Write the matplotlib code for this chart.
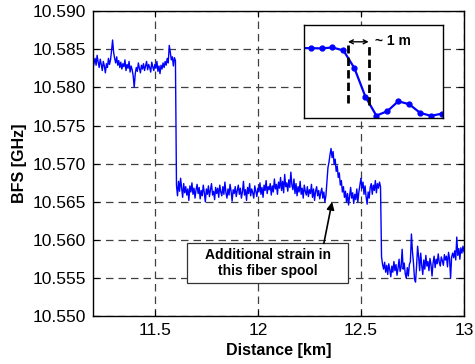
import numpy as np
import matplotlib
matplotlib.use('Agg')
import matplotlib.pyplot as plt
from matplotlib.patches import Rectangle

plt.rcParams['font.family'] = ['Liberation Sans', 'DejaVu Sans']

step_km = 0.005

seg1_start = 11.200
seg1_bfs = [
    10.5825, 10.5832, 10.5838, 10.5829, 10.5842, 10.5833, 10.5826, 10.5837, 10.5830, 10.5822,
    10.5834, 10.5828, 10.5819, 10.5831, 10.5826, 10.5838, 10.5830, 10.5836, 10.5848, 10.5862,
    10.5846, 10.5838, 10.5832, 10.5840, 10.5829, 10.5835, 10.5826, 10.5833, 10.5824, 10.5831,
    10.5827, 10.5836, 10.5822, 10.5830, 10.5825, 10.5834, 10.5820, 10.5828, 10.5823, 10.5815,
    10.5800, 10.5818, 10.5826, 10.5821, 10.5832, 10.5825, 10.5819, 10.5829, 10.5824, 10.5831,
    10.5822, 10.5828, 10.5834, 10.5823, 10.5830, 10.5826, 10.5820, 10.5833, 10.5827, 10.5822,
    10.5830, 10.5825, 10.5834, 10.5821, 10.5828, 10.5818, 10.5829, 10.5824, 10.5832, 10.5826,
    10.5834, 10.5829, 10.5838, 10.5832, 10.5855, 10.5846, 10.5836, 10.5840, 10.5828, 10.5839,
    10.5835,
]

seg2_start = 11.605
seg2_bfs = [
    10.5672, 10.5658, 10.5677, 10.5664, 10.5681, 10.5669, 10.5656, 10.5674, 10.5662, 10.5670,
    10.5659, 10.5667, 10.5652, 10.5671, 10.5663, 10.5675, 10.5660, 10.5668, 10.5655, 10.5666,
    10.5673, 10.5661, 10.5669, 10.5654, 10.5665, 10.5658, 10.5672, 10.5662, 10.5650, 10.5667,
    10.5660, 10.5671, 10.5657, 10.5666, 10.5674, 10.5659, 10.5664, 10.5653, 10.5669, 10.5661,
    10.5668, 10.5656, 10.5672, 10.5663, 10.5658, 10.5670, 10.5660, 10.5676, 10.5662, 10.5655,
    10.5667, 10.5659, 10.5673, 10.5664, 10.5651, 10.5666, 10.5661, 10.5670, 10.5657, 10.5665,
    10.5672, 10.5660, 10.5668, 10.5655, 10.5663, 10.5677, 10.5659, 10.5666, 10.5652, 10.5669,
    10.5661, 10.5674, 10.5658, 10.5667, 10.5662, 10.5655, 10.5671, 10.5664, 10.5657, 10.5668,
    10.5663, 10.5675, 10.5660, 10.5669, 10.5656, 10.5672, 10.5665, 10.5678, 10.5661, 10.5670,
    10.5666, 10.5674, 10.5659, 10.5671, 10.5663, 10.5680, 10.5667, 10.5673, 10.5660, 10.5676,
    10.5668, 10.5682, 10.5665, 10.5677, 10.5662, 10.5686, 10.5670, 10.5675, 10.5664, 10.5679,
    10.5669, 10.5689, 10.5672, 10.5666, 10.5680, 10.5661, 10.5674, 10.5658, 10.5670, 10.5663,
    10.5677, 10.5660, 10.5668, 10.5655, 10.5672, 10.5664, 10.5659, 10.5670, 10.5657, 10.5666,
    10.5661, 10.5673, 10.5656, 10.5667, 10.5652, 10.5664, 10.5670, 10.5658, 10.5665, 10.5654,
    10.5662, 10.5668, 10.5655, 10.5663, 10.5650, 10.5658, 10.5676, 10.5695, 10.5702, 10.5712,
    10.5720, 10.5708, 10.5716, 10.5699, 10.5706, 10.5690, 10.5697, 10.5682, 10.5688, 10.5672,
    10.5678, 10.5663, 10.5670, 10.5656, 10.5664, 10.5650, 10.5661, 10.5646, 10.5658, 10.5669,
    10.5655, 10.5662, 10.5648, 10.5660, 10.5653, 10.5667, 10.5650, 10.5663, 10.5672, 10.5681,
    10.5668, 10.5676, 10.5660, 10.5671, 10.5657, 10.5647, 10.5663, 10.5655, 10.5669, 10.5674,
    10.5660, 10.5672, 10.5665, 10.5678, 10.5662, 10.5674, 10.5668, 10.5676, 10.5670,
]

seg3_start = 12.600
seg3_bfs = [
    10.5578, 10.5568, 10.5562, 10.5571, 10.5558, 10.5567, 10.5555, 10.5569, 10.5561, 10.5552,
    10.5566, 10.5558, 10.5572, 10.5560, 10.5568, 10.5554, 10.5563, 10.5575, 10.5559, 10.5565,
    10.5588, 10.5562, 10.5570, 10.5556, 10.5550, 10.5564, 10.5553, 10.5568, 10.5572, 10.5608,
    10.5585, 10.5570, 10.5549, 10.5545, 10.5566, 10.5592, 10.5578, 10.5560, 10.5583, 10.5567,
    10.5555, 10.5574, 10.5562, 10.5580, 10.5566, 10.5572, 10.5560, 10.5576, 10.5568, 10.5553,
    10.5570, 10.5579, 10.5564, 10.5575, 10.5569, 10.5582, 10.5571, 10.5566, 10.5578, 10.5573,
    10.5567, 10.5581, 10.5574, 10.5579, 10.5565, 10.5584, 10.5576, 10.5550, 10.5578, 10.5583,
    10.5577, 10.5586, 10.5574, 10.5604, 10.5580, 10.5589, 10.5575, 10.5590, 10.5583, 10.5592,
    10.5585,
]

# --- inset: zoom on the step edge (0.5 m sampling, normalised BFS) ---
inset_pos_m = [-0.5, 0.0, 0.5, 1.0, 1.5, 2.0, 2.5, 3.0, 3.5, 4.0, 4.5, 5.0, 5.5, 6.0]
inset_bfs = [0.749, 0.749, 0.746, 0.756, 0.724, 0.534, 0.229, 0.025, 0.072, 0.179,
             0.147, 0.054, 0.022, 0.047]

x_ticks = [11.5, 12, 12.5, 13]
x_tick_labels = ['11.5', '12', '12.5', '13']
y_ticks = [10.550, 10.555, 10.560, 10.565, 10.570, 10.575, 10.580, 10.585, 10.590]

dist = []
bfs = []
for start, vals in [(seg1_start, seg1_bfs), (seg2_start, seg2_bfs), (seg3_start, seg3_bfs)]:
    dist.extend(start + step_km * np.arange(len(vals)))
    bfs.extend(vals)

fig = plt.figure(figsize=(4.75, 3.64), dpi=100)
ax = fig.add_axes([0.1958, 0.1305, 0.781, 0.8393])

ax.plot(dist, bfs, color=(0, 0, 1), lw=1.0)

ax.set_xlim(11.2, 13)
ax.set_ylim(10.550, 10.590)
ax.set_xticks(x_ticks)
ax.set_xticklabels(x_tick_labels)
ax.set_yticks(y_ticks)
ax.set_yticklabels(['%.3f' % v for v in y_ticks])
ax.tick_params(direction='in', length=4, width=0.8, top=True, right=True,
               labelsize=12.5, pad=5)
ax.grid(True, color='0.25', linestyle=(0, (6, 4)), linewidth=0.9)
for s in ax.spines.values():
    s.set_linewidth(1.0)

ax.set_xlabel('Distance [km]', fontsize=11.5, fontweight='bold', labelpad=3)
ax.set_ylabel('BFS [GHz]', fontsize=11.5, fontweight='bold', labelpad=4)

# annotation: box, text, arrow
ax.add_patch(Rectangle((11.656, 10.55433), 0.782, 0.00524, fc='white', ec='0.2',
                       lw=0.9, zorder=4))
ax.text(12.047, 10.5570, 'Additional strain in\nthis fiber spool', ha='center',
        va='center', fontsize=10, fontweight='bold', zorder=5)
ax.annotate('', xy=(12.36, 10.5650), xytext=(12.32, 10.55957),
            arrowprops=dict(arrowstyle='-|>', color='black', lw=1.2,
                            mutation_scale=11, shrinkA=0, shrinkB=0), zorder=5)

# inset
axi = fig.add_axes([0.640, 0.676, 0.293, 0.256])
axi.plot(inset_pos_m, inset_bfs, color=(0, 0, 1), lw=1.6, marker='o', markersize=3.5)
axi.plot([1.705, 1.705], [0.16, 0.785], color='black', lw=2, linestyle=(0, (3, 1.5)))
axi.plot([2.65, 2.65], [0.14, 0.785], color='black', lw=2, linestyle=(0, (3, 1.5)))
axi.annotate('', xy=(1.705, 0.817), xytext=(2.65, 0.817),
             arrowprops=dict(arrowstyle='<->', color='black', lw=1.0,
                             mutation_scale=7, shrinkA=0, shrinkB=0))
axi.text(2.95, 0.83, '~ 1 m', fontsize=10, fontweight='bold', va='center', ha='left')
axi.set_xlim(-0.3, 6.05)
axi.set_ylim(0, 1)
axi.set_xticks([])
axi.set_yticks([])
for s in axi.spines.values():
    s.set_linewidth(1.0)

fig.savefig('out.png', dpi=100)
